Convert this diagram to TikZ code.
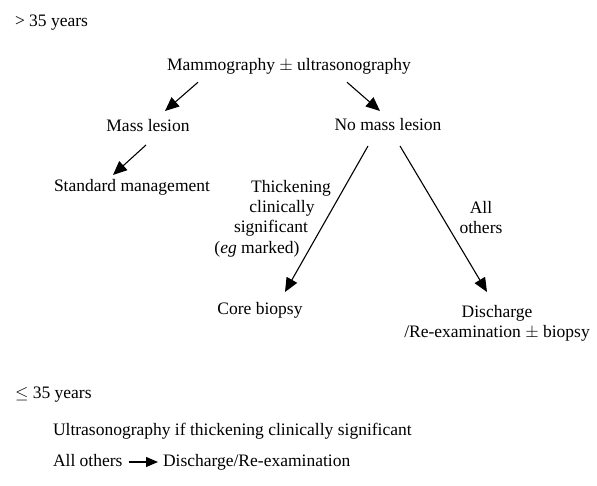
\documentclass[tikz,border=0pt]{standalone}
\usepackage{fontspec}
\setmainfont{Liberation Serif}
\usetikzlibrary{arrows.meta}
\begin{document}
\begin{tikzpicture}[x=1pt,y=-1pt,
  txt/.style={inner sep=0pt,outer sep=0pt,text height=12.5pt,text depth=4pt,font=\fontsize{17.5}{20}\selectfont},
  lbl/.style={inner sep=0pt,outer sep=0pt,align=center,font=\fontsize{17.5}{20}\selectfont},
  arr/.style={line width=1.1pt,-{Triangle[length=14pt,width=12pt]}},
  sarr/.style={line width=1.1pt,-{Triangle[length=12pt,width=10pt]}}]
\useasboundingbox[fill=white] (0,0) rectangle (597,486);
\node[txt,anchor=west] (old) at (15,22) {> 35 years};
\node[txt] (mammo) at (289,66) {Mammography $\pm$ ultrasonography};
\node[txt] (mass) at (148,127) {Mass lesion};
\node[txt] (nomass) at (388,126) {No mass lesion};
\node[txt] (std) at (132,187) {Standard management};
\node[txt] (th1) at (291,188) {Thickening};
\node[txt] (th2) at (282,208) {clinically};
\node[txt] (th3) at (271,228) {significant};
\node[txt] (th4) at (257,249) {(\textit{eg} marked)};
\node[lbl] (allo) at (481,218) {All\\others};
\node[txt] (core) at (260,310) {Core biopsy};
\node[lbl] (disc) at (497,323) {Discharge\\/Re-examination $\pm$ biopsy};
\node[txt,anchor=west] (young) at (15,394) {$\leq$ 35 years};
\node[txt,anchor=west] (us) at (53,431) {Ultrasonography if thickening clinically significant};
\node[txt,anchor=west] (ao) at (53,462) {All others};
\node[txt,anchor=west] (dr) at (163,462) {Discharge/Re-examination};
\draw[arr] ([xshift=-91pt,yshift=-8pt]mammo.south) -- ([xshift=17pt,yshift=7.75pt]mass.north);
\draw[arr] ([xshift=58pt,yshift=-8pt]mammo.south) -- ([xshift=-8pt,yshift=6.75pt]nomass.north);
\draw[arr] ([xshift=-2pt,yshift=-9.75pt]mass.south) -- ([xshift=-19pt,yshift=3.75pt]std.north);
\draw[arr] ([xshift=-20pt,yshift=-11.75pt]nomass.south) -- ([xshift=25pt,yshift=18pt]core.center);
\draw[arr] ([xshift=12pt,yshift=-11.75pt]nomass.south) -- ([xshift=-10pt,yshift=31pt]disc.center);
\draw[sarr] ([xshift=6pt]ao.east) -- ([xshift=-5pt]dr.west);
\end{tikzpicture}
\end{document}
